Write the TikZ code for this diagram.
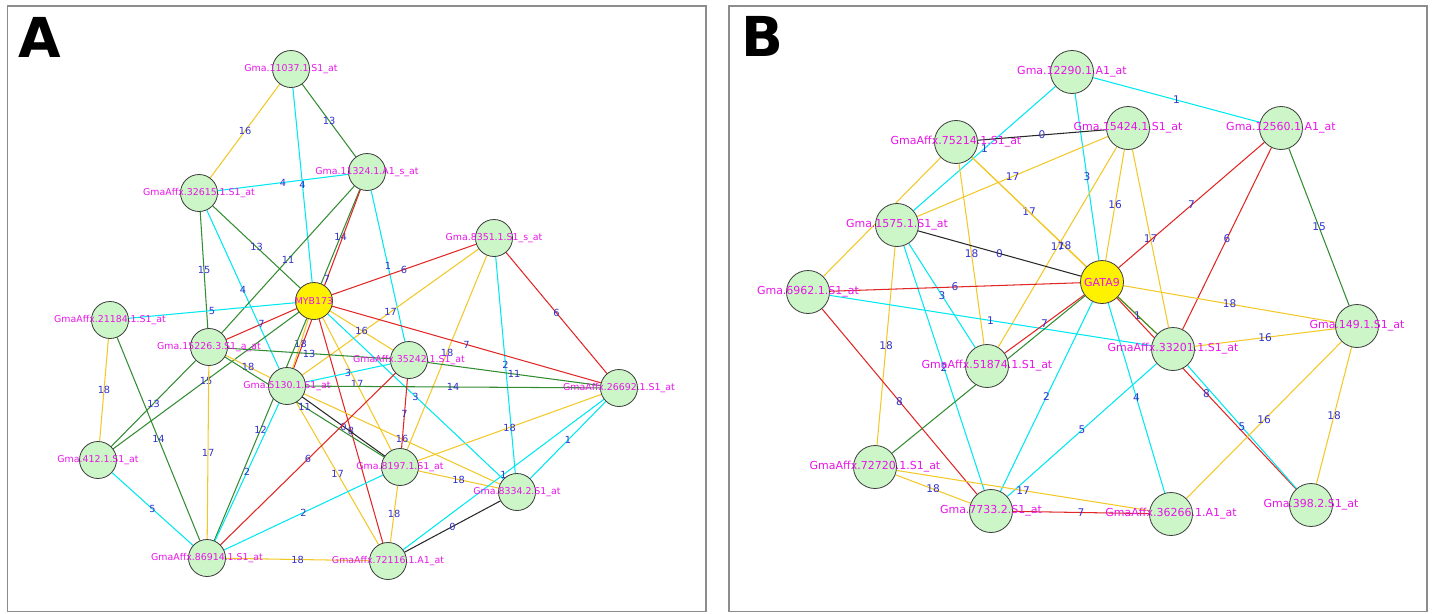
\documentclass[tikz,border=0pt]{standalone}
\usepackage{fontspec}
\setmainfont{DejaVu Sans}
\usetikzlibrary{backgrounds}
\definecolor{ecyan}{RGB}{0,232,240}
\definecolor{egold}{RGB}{242,200,40}
\definecolor{egreen}{RGB}{50,140,50}
\definecolor{ered}{RGB}{226,38,38}
\definecolor{eblack}{RGB}{40,40,40}
\definecolor{genename}{RGB}{232,20,232}
\definecolor{weightblue}{RGB}{50,50,205}
\definecolor{probefill}{RGB}{204,245,200}
\definecolor{probeedge}{RGB}{60,60,60}
\definecolor{framegray}{RGB}{140,140,140}
\tikzstyle{probe}=[circle, draw=probeedge, fill=probefill, line width=0.8pt, inner sep=0pt]
\tikzstyle{probea}=[probe, minimum size=37pt]
\tikzstyle{probeb}=[probe, minimum size=43pt]
\tikzstyle{tf}=[fill=yellow]
\tikzstyle{namea}=[text=genename, font=\fontsize{9.4}{10}\selectfont, inner sep=0pt]
\tikzstyle{nameb}=[text=genename, font=\fontsize{11}{12}\selectfont, inner sep=0pt]
\tikzstyle{wa}=[text=weightblue, font=\fontsize{9.8}{10}\selectfont, inner sep=0pt]
\tikzstyle{wb}=[text=weightblue, font=\fontsize{10.6}{11}\selectfont, inner sep=0pt]
\tikzstyle{link}=[line width=1.05pt]
\tikzstyle{lcyan}=[link, ecyan]
\tikzstyle{lgold}=[link, egold]
\tikzstyle{lgreen}=[link, egreen]
\tikzstyle{lred}=[link, ered]
\tikzstyle{lblack}=[link, eblack]
\tikzstyle{panel}=[draw=framegray, line width=1.3pt]
\tikzstyle{tag}=[font=\fontsize{55}{60}\selectfont\bfseries, inner sep=0pt]

\begin{document}
\begin{tikzpicture}[x=1pt, y=-1pt]
	\useasboundingbox (0,0) rectangle (1432,613);
	\draw[panel] (7.5,6) rectangle (706,611.5);
	\draw[panel] (729,6) rectangle (1427,611.5);
	\node[tag] (tagA) at (40,37) {A};
	\node[tag] (tagB) at (762,36) {B};

	\node[probea, label={[namea]center:Gma.11037.1.S1\_at}] (a11037) at (291,69) {};
	\node[probea, label={[namea]center:GmaAffx.32615.1.S1\_at}] (a32615) at (199,193) {};
	\node[probea, label={[namea]center:Gma.11324.1.A1\_s\_at}] (a11324) at (367,172) {};
	\node[probea, label={[namea]center:Gma.8351.1.S1\_s\_at}] (a8351) at (494,238) {};
	\node[probea, tf, label={[namea]center:MYB173}] (myb) at (314,301) {};
	\node[probea, label={[namea]center:GmaAffx.21184.1.S1\_at}] (a21184) at (110,320) {};
	\node[probea, label={[namea]center:Gma.15226.3.S1\_a\_at}] (a15226) at (209,347) {};
	\node[probea, label={[namea]center:Gma.5130.1.S1\_at}] (a5130) at (287,386) {};
	\node[probea, label={[namea]center:GmaAffx.35242.1.S1\_at}] (a35242) at (409,360) {};
	\node[probea, label={[namea]center:GmaAffx.26692.1.S1\_at}] (a26692) at (619,388) {};
	\node[probea, label={[namea]center:Gma.412.1.S1\_at}] (a412) at (98,460) {};
	\node[probea, label={[namea]center:Gma.8197.1.S1\_at}] (a8197) at (400,467) {};
	\node[probea, label={[namea]center:Gma.8334.2.S1\_at}] (a8334) at (517,492) {};
	\node[probea, label={[namea]center:GmaAffx.86914.1.S1\_at}] (a86914) at (207,558) {};
	\node[probea, label={[namea]center:GmaAffx.72116.1.A1\_at}] (a72116) at (388,561) {};

	\node[probeb, label={[nameb]center:Gma.12290.1.A1\_at}] (b12290) at (1072,72) {};
	\node[probeb, label={[nameb]center:GmaAffx.75214.1.S1\_at}] (b75214) at (956,142) {};
	\node[probeb, label={[nameb]center:Gma.15424.1.S1\_at}] (b15424) at (1128,128) {};
	\node[probeb, label={[nameb]center:Gma.12560.1.A1\_at}] (b12560) at (1281,128) {};
	\node[probeb, label={[nameb]center:Gma.1575.1.S1\_at}] (b1575) at (897,225) {};
	\node[probeb, tf, label={[nameb]center:GATA9}] (gata) at (1102,282) {};
	\node[probeb, label={[nameb]center:Gma.6962.1.S1\_at}] (b6962) at (808,292) {};
	\node[probeb, label={[nameb]center:Gma.149.1.S1\_at}] (b149) at (1357,326) {};
	\node[probeb, label={[nameb]center:GmaAffx.33201.1.S1\_at}] (b33201) at (1173,349) {};
	\node[probeb, label={[nameb]center:GmaAffx.51874.1.S1\_at}] (b51874) at (987,366) {};
	\node[probeb, label={[nameb]center:GmaAffx.72720.1.S1\_at}] (b72720) at (875,467) {};
	\node[probeb, label={[nameb]center:Gma.7733.2.S1\_at}] (b7733) at (991,511) {};
	\node[probeb, label={[nameb]center:GmaAffx.36266.1.A1\_at}] (b36266) at (1171,514) {};
	\node[probeb, label={[nameb]center:Gma.398.2.S1\_at}] (b398) at (1311,505) {};

	\begin{pgfonlayer}{background}
		\draw[lgold] (a11037) -- node[wa] {16} (a32615);
		\draw[lgreen] (a11037) -- node[wa] {13} (a11324);
		\draw[lcyan] (a11037) -- node[wa] {4} (myb);
		\draw[lcyan] (a32615) -- node[wa] {4} (a11324);
		\draw[lgreen] (a32615) -- node[wa] {13} (myb);
		\draw[lgreen] (a32615) -- node[wa] {15} (a15226);
		\draw[lcyan] (a32615) -- node[wa] {4} (a5130);
		\draw[lgreen] (a11324) -- node[wa] {11} (a15226);
		\draw[lgreen] (a11324) -- node[wa] {14} (myb);
		\draw[lred] (a11324) -- node[wa] {7} (a5130);
		\draw[lcyan] (a11324) -- node[wa] {1} (a35242);
		\draw[lred] (a8351) -- node[wa] {6} (myb);
		\draw[lgold] (a8351) -- node[wa] {17} (a5130);
		\draw[lgold] (a8351) -- node[wa] {18} (a8197);
		\draw[lcyan] (a8351) -- node[wa] {2} (a8334);
		\draw[lred] (a8351) -- node[wa] {6} (a26692);
		\draw[lred] (myb) -- node[wa] {7} (a26692);
		\draw[lcyan] (myb) -- node[wa] {5} (a21184);
		\draw[lred] (myb) -- node[wa] {7} (a15226);
		\draw[lgreen] (myb) -- node[wa] {15} (a412);
		\draw[lgold] (myb) -- node[wa] {16} (a35242);
		\draw[lgold] (myb) -- node[wa] {18} (a5130);
		\draw[lgreen] (myb) -- node[wa] {12} (a86914);
		\draw[lred] (myb) -- node[wa] {8} (a72116);
		\draw[lcyan] (myb) -- node[wa] {3} (a8334);
		\draw[lgold] (myb) -- node[wa] {17} (a8197);
		\draw[lcyan] (a5130) -- node[wa] {3} (a35242);
		\draw[lgreen] (a5130) -- node[wa] {14} (a26692);
		\draw[lcyan] (a5130) -- node[wa] {2} (a86914);
		\draw[lgold] (a5130) -- node[wa] {16} (a8334);
		\draw[lgold] (a5130) -- node[wa] {17} (a72116);
		\draw[lblack] (a5130) -- node[wa] {0} (a8197);
		\draw[lgold] (a15226) -- node[wa] {18} (a5130);
		\draw[lgreen] (a15226) -- node[wa] {11} (a8197);
		\draw[lgreen] (a15226) -- node[wa] {13} (a35242);
		\draw[lgold] (a15226) -- node[wa] {17} (a86914);
		\draw[lgreen] (a15226) -- node[wa] {13} (a412);
		\draw[lgreen] (a35242) -- node[wa] {11} (a26692);
		\draw[lred] (a35242) -- node[wa] {7} (a8197);
		\draw[lred] (a35242) -- node[wa] {6} (a86914);
		\draw[lgold] (a21184) -- node[wa] {18} (a412);
		\draw[lgreen] (a21184) -- node[wa] {14} (a86914);
		\draw[lcyan] (a412) -- node[wa] {5} (a86914);
		\draw[lgold] (a86914) -- node[wa] {18} (a72116);
		\draw[lcyan] (a86914) -- node[wa] {2} (a8197);
		\draw[lgold] (a8197) -- node[wa] {18} (a26692);
		\draw[lgold] (a8197) -- node[wa] {18} (a8334);
		\draw[lgold] (a8197) -- node[wa] {18} (a72116);
		\draw[lblack] (a72116) -- node[wa] {0} (a8334);
		\draw[lcyan] (a72116) -- node[wa] {1} (a26692);
		\draw[lcyan] (a8334) -- node[wa] {1} (a26692);

		\draw[lcyan] (b12290) -- node[wb] {1} (b12560);
		\draw[lcyan] (b12290) -- node[wb] {1} (b1575);
		\draw[lcyan] (b12290) -- node[wb] {3} (gata);
		\draw[lblack] (b75214) -- node[wb] {0} (b15424);
		\draw[lgold] (b75214) -- node[wb] {17} (gata);
		\draw[lgold] (b75214) -- node[wb] {18} (b51874);
		\draw[lgold] (b75214) -- node[wb] {18} (b33201);
		\draw[lgold] (b75214) -- (b6962);
		\draw[lgold] (b15424) -- node[wb] {17} (b1575);
		\draw[lgold] (b15424) -- node[wb] {16} (gata);
		\draw[lgold] (b15424) -- node[wb] {17} (b51874);
		\draw[lgold] (b15424) -- node[wb] {17} (b33201);
		\draw[lred] (b12560) -- node[wb] {7} (gata);
		\draw[lred] (b12560) -- node[wb] {6} (b33201);
		\draw[lgreen] (b12560) -- node[wb] {15} (b149);
		\draw[lblack] (b1575) -- node[wb] {0} (gata);
		\draw[lcyan] (b1575) -- node[wb] {3} (b51874);
		\draw[lcyan] (b1575) -- node[wb] {2} (b7733);
		\draw[lgold] (b1575) -- node[wb] {18} (b72720);
		\draw[lred] (b6962) -- node[wb] {6} (gata);
		\draw[lcyan] (b6962) -- node[wb] {1} (b33201);
		\draw[lred] (b6962) -- node[wb] {8} (b7733);
		\draw[lred] (gata) -- node[wb] {7} (b51874);
		\draw[lgreen] (gata) -- (b72720);
		\draw[lcyan] (gata) -- node[wb] {2} (b7733);
		\draw[lcyan] (gata) -- node[wb] {4} (b36266);
		\draw[lgreen] (gata) -- node[wb] {1} (b33201);
		\draw[lred] (gata) -- node[wb] {8} (b398);
		\draw[lgold] (gata) -- node[wb] {18} (b149);
		\draw[lgold] (b33201) -- node[wb] {16} (b149);
		\draw[lcyan] (b33201) -- node[wb] {5} (b398);
		\draw[lcyan] (b33201) -- node[wb] {5} (b7733);
		\draw[lgold] (b149) -- node[wb] {16} (b36266);
		\draw[lgold] (b149) -- node[wb] {18} (b398);
		\draw[lgold] (b72720) -- node[wb] {18} (b7733);
		\draw[lgold] (b72720) -- node[wb] {17} (b36266);
		\draw[lred] (b7733) -- node[wb] {7} (b36266);
	\end{pgfonlayer}
\end{tikzpicture}
\end{document}
